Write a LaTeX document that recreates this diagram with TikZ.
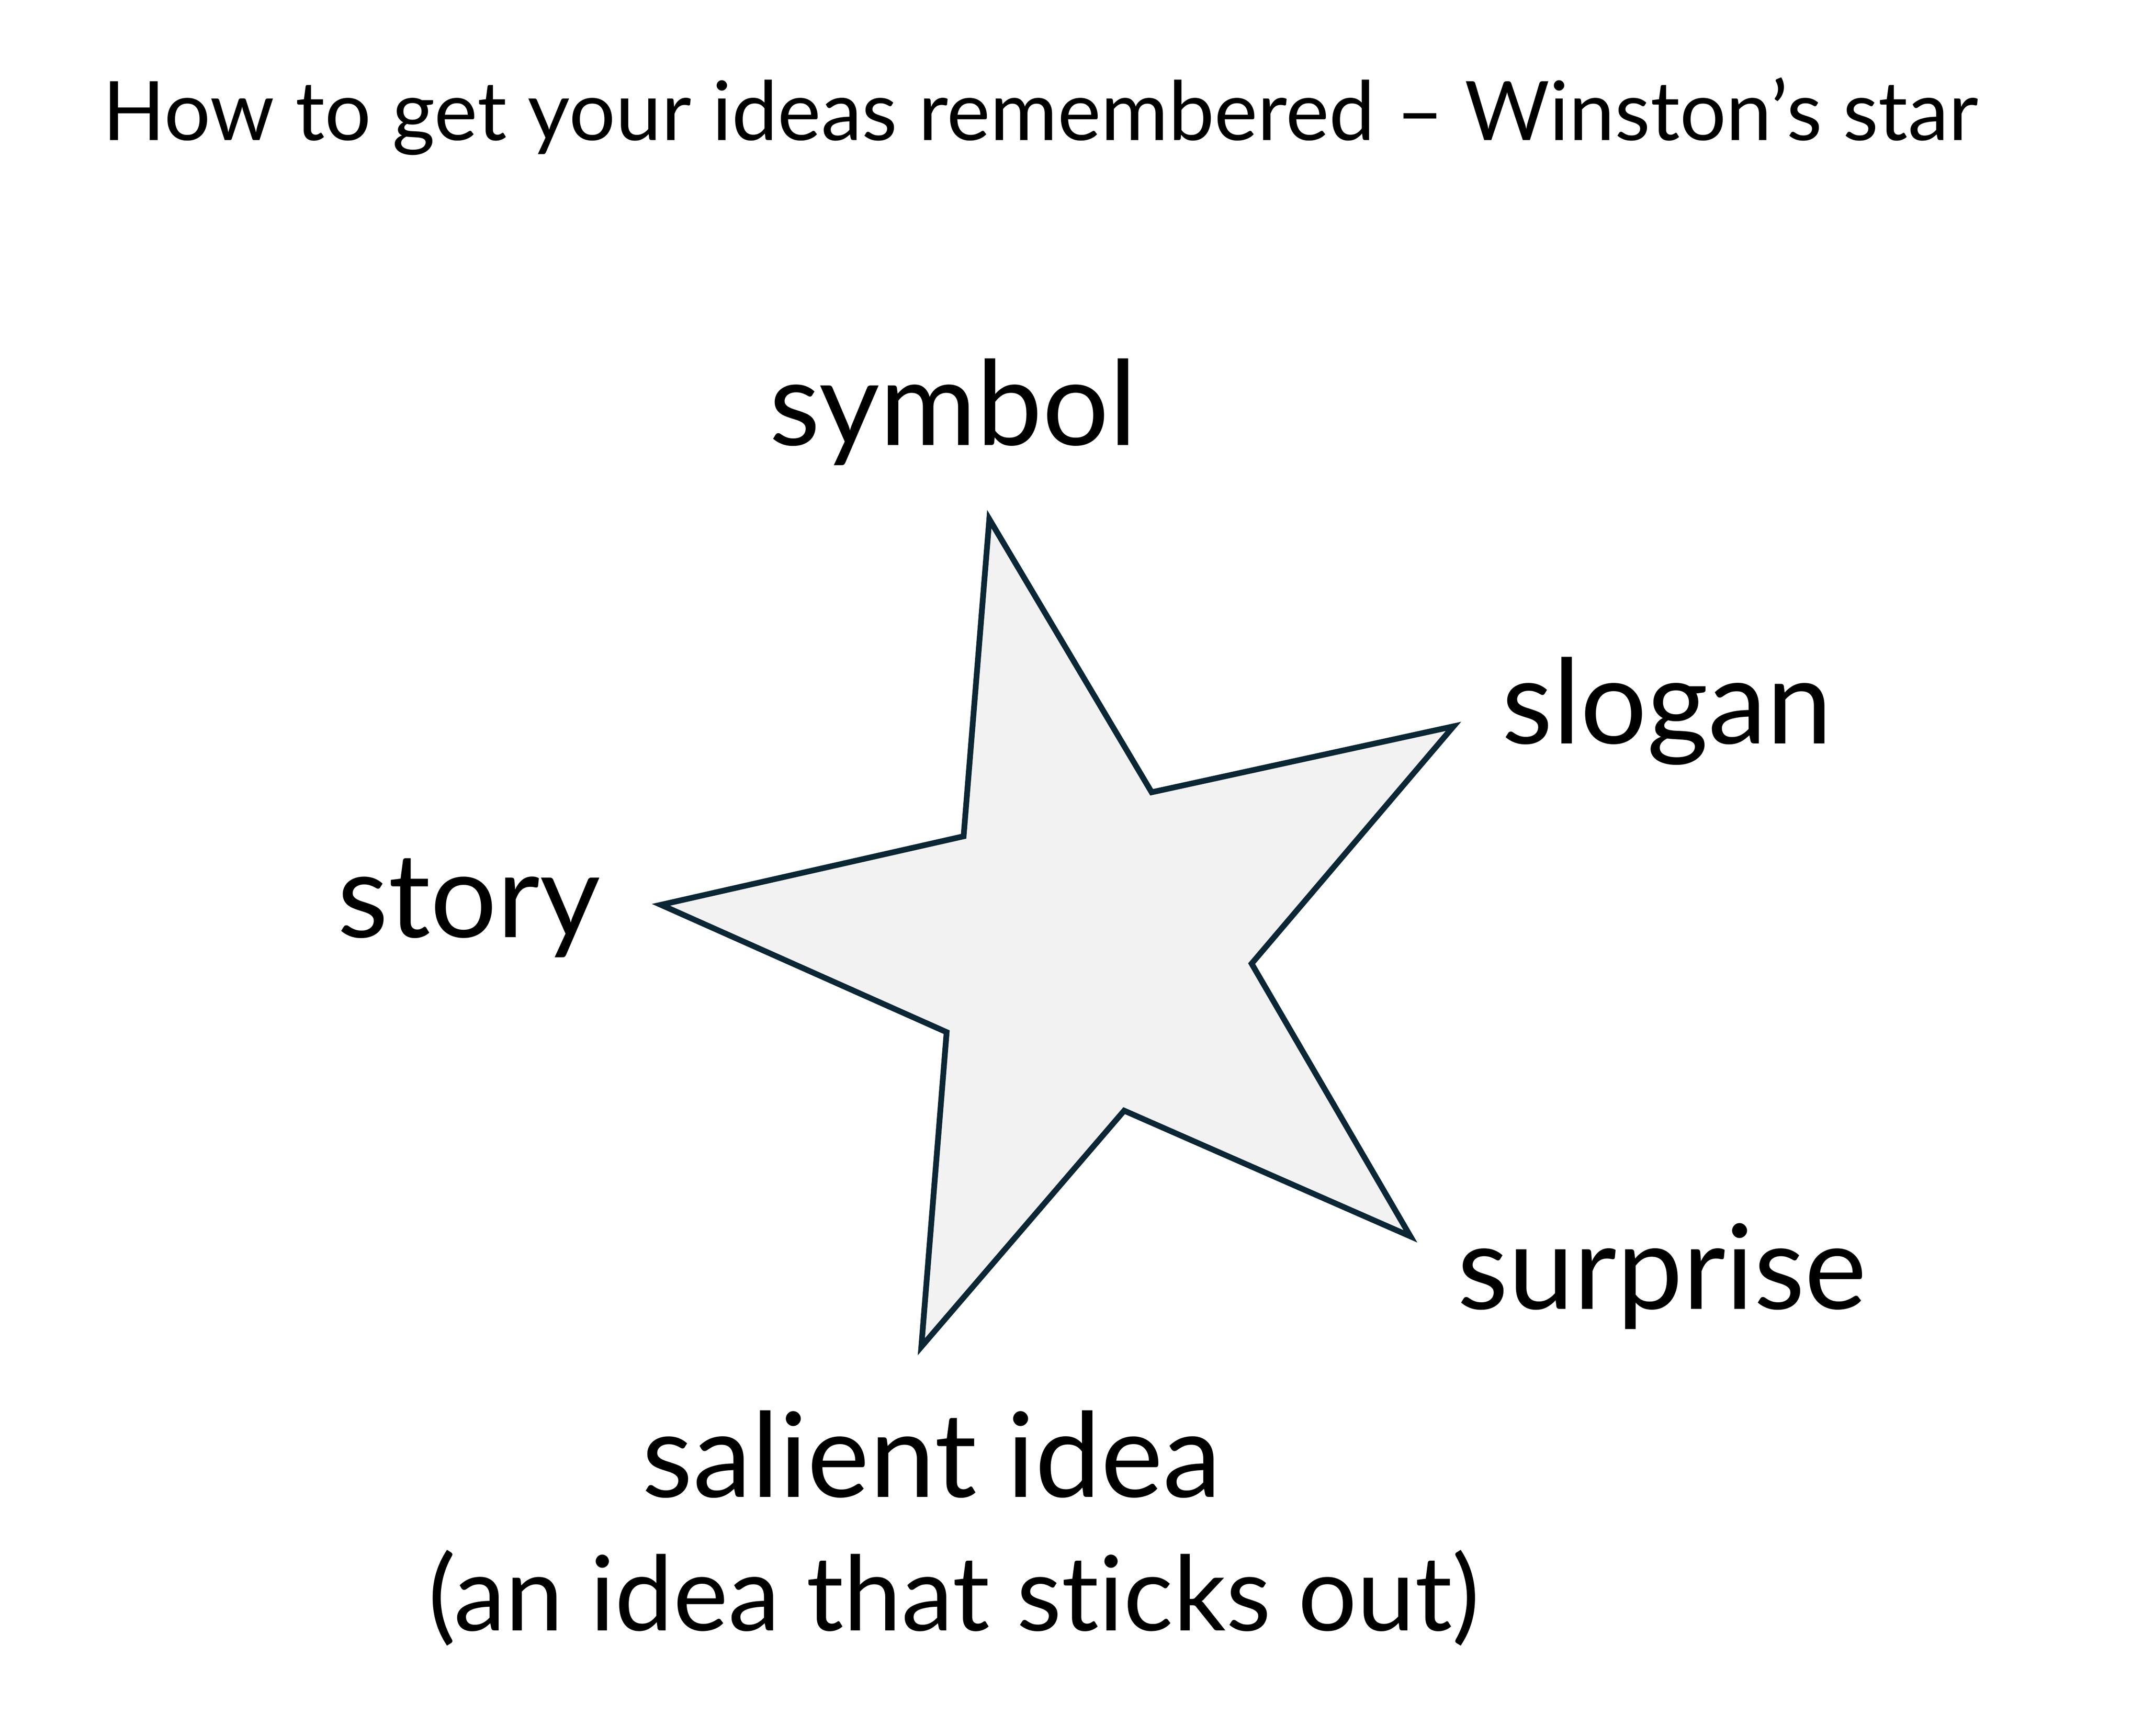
\documentclass[tikz,border=0pt]{standalone}
\usepackage{fontspec}
\setmainfont[Ligatures = NoCommon]{Lato}
\definecolor{starLine}{HTML}{0B2634}
\definecolor{starFill}{HTML}{F2F2F2}

\begin{document}
\begin{tikzpicture}[x = 1pt, y = -1pt]
\tikzstyle{starStyle} = [draw = starLine, fill = starFill, line width = 4.2pt, line join = miter]
\tikzstyle{titleStyle} = [anchor = base, inner sep = 0pt, font = \fontsize{60}{72}\selectfont]
\tikzstyle{labelStyle} = [anchor = base, inner sep = 0pt, font = \fontsize{86}{100}\selectfont]
\tikzstyle{noteStyle} = [anchor = base, inner sep = 0pt, font = \fontsize{76}{90}\selectfont]
\useasboundingbox (0, 0) rectangle (1567, 1269.35);
\node[titleStyle] (title) at (760.8, 102.7) {How to get your ideas remembered – Winston’s star};
% star corners, clockwise from the top tip
\coordinate (p0) at (723.4, 379.6);
\coordinate (p1) at (842.1, 579.3);
\coordinate (p2) at (1062.8, 531.1);
\coordinate (p3) at (915.2, 704.6);
\coordinate (p4) at (1031.3, 904.0);
\coordinate (p5) at (822.0, 812.1);
\coordinate (p6) at (673.7, 984.7);
\coordinate (p7) at (692.2, 754.7);
\coordinate (p8) at (483.3, 661.6);
\coordinate (p9) at (704.6, 611.5);
\draw[starStyle] (p0) -- (p1) -- (p2) -- (p3) -- (p4) -- (p5) -- (p6) -- (p7) -- (p8) -- (p9) -- cycle;
\node[labelStyle] (symbol) at (696.8, 325.6) {symbol};
\node[labelStyle] (slogan) at (1219.0, 543.8) {slogan};
\node[labelStyle] (story) at (342.9, 685.3) {story};
\node[labelStyle] (surprise) at (1215.4, 957.3) {surprise};
\node[labelStyle] (salient) at (681.3, 1094.8) {salient idea};
\node[noteStyle] (note) at (697.5, 1192.3) {(an idea that sticks out)};
\end{tikzpicture}
\end{document}
